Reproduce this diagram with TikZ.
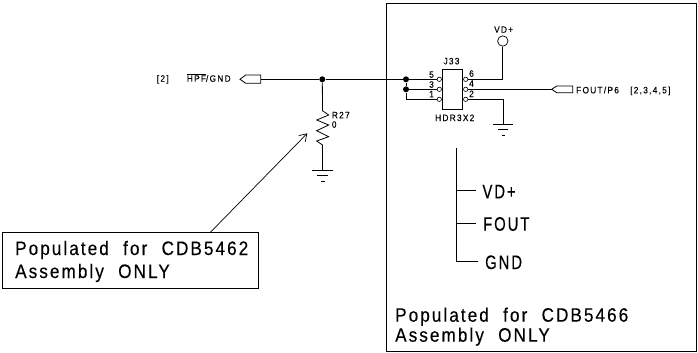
\documentclass[tikz,border=0pt]{standalone}
\usepackage{fontspec}
\setmainfont{Liberation Sans}
\newfontfamily\smallface[LetterSpace=14,FakeStretch=0.9,WordSpace=1.6,FakeBold=0.25]{Liberation Sans}
\newfontfamily\largeface[LetterSpace=10.5,FakeStretch=0.88,WordSpace=2.1,FakeBold=0.25]{Liberation Sans}
\newfontfamily\legendface[LetterSpace=10,FakeStretch=0.76,FakeBold=0.25]{Liberation Sans}
\usetikzlibrary{arrows.meta}
\tikzset{
  wire/.style={draw=black,line width=0.8pt},
  thinline/.style={draw=black,line width=0.7pt},
  pincirc/.style={circle,draw=black,line width=0.6pt,fill=white,minimum size=4.4pt,inner sep=0pt},
  dotnode/.style={circle,fill=black,minimum size=6pt,inner sep=0pt},
  smalltext/.style={anchor=base west,inner sep=0pt,font=\smallface\fontsize{9.2}{11}\selectfont},
  largetext/.style={anchor=base west,inner sep=0pt,font=\largeface\fontsize{19.5}{22}\selectfont},
  legendtext/.style={anchor=base west,inner sep=0pt,font=\legendface\fontsize{19.5}{22}\selectfont},
  offpage/.style={draw=black,line width=0.8pt,fill=white}
}
\begin{document}
\begin{tikzpicture}[x=1pt,y=-1pt]
\useasboundingbox (0,0) rectangle (698,353);
% big box
\draw[thinline,line width=0.9pt] (386.5,3) rectangle (696,351.5);
% header
\node[draw=black,line width=0.9pt,fill=white,minimum width=19.6pt,minimum height=39.6pt,inner sep=0pt] (j33) at (452.5,89.3) {};
\node[pincirc] (p5) at (439.3,79.3) {};
\node[pincirc] (p3) at (439.3,89.3) {};
\node[pincirc] (p1) at (439.3,99.3) {};
\node[pincirc] (p6) at (465.7,79.3) {};
\node[pincirc] (p4) at (465.7,89.3) {};
\node[pincirc] (p2) at (465.7,99.3) {};
\node[dotnode] (ja) at (406,79.3) {};
\node[dotnode] (jb) at (406,89.3) {};
\node[dotnode] (jc) at (322.3,79.3) {};
\node[circle,draw=black,line width=0.7pt,minimum size=10.4pt,inner sep=0pt] (vd) at (502.8,41) {};
% off-page connectors
\coordinate (hpfend) at (260.7,79.3);
\coordinate (foutend) at (551.7,89.3);
\draw[offpage] (240,79.3) -- (245.7,75) -- (hpfend|-0,75) -- (hpfend|-0,83.3) -- (245.7,83.3) -- cycle;
\draw[offpage] (foutend) -- (556.7,86) -- (572.7,86) -- (572.7,92.7) -- (556.7,92.7) -- cycle;
% wires
\draw[wire] (hpfend) -- (jc);
\draw[wire] (jc) -- (ja);
\draw[wire] (ja) -- (p5);
\draw[wire] (jb) -- (p3);
\draw[wire] (ja) -- (jb);
\draw[wire] (jb) -- (406,99.3) -- (p1);
\draw[wire] (p6) -- (502.8,79.3) -- (vd);
\draw[wire] (p4) -- (foutend);
\coordinate (gr) at (503.3,124);
\draw[wire] (p2) -- (503.3,99.3) -- (gr);
\draw[wire] (493.3,124) -- (513.3,124);
\draw[wire] (498,129.3) -- (508,129.3);
\draw[wire] (501.5,135.7) -- (505.2,135.7);
% resistor
\coordinate (gl) at (322.5,170);
\draw[wire] (jc) -- (322.5,110.7) -- (328.7,115) -- (316.7,120) -- (328.7,125) -- (316.7,130.7) -- (328.7,136.7) -- (316.7,141) -- (322.5,145) -- (gl);
\draw[wire] (312.3,170) -- (332.7,170);
\draw[wire] (317,175.7) -- (328,175.7);
\draw[wire] (320.5,181.7) -- (325,181.7);
% note box and arrow
\node[draw=black,line width=0.9pt,fill=white,minimum width=256.3pt,minimum height=55.6pt,inner sep=0pt] (note) at (130.2,260.5) {};
\coordinate (arrowtip) at (307.3,133.3);
\draw[thinline,-{Straight Barb[length=7pt,width=9pt,line width=0.7pt]}] (210,232.7) -- (arrowtip);
% pinout legend
\coordinate (legtop) at (456,148);
\coordinate (legbot) at (456,261);
\draw[thinline] (legtop) -- (legbot) -- (477.7,261);
\draw[thinline] (456,190) -- (476,190);
\draw[thinline] (456,223.3) -- (476,223.3);
% labels
\node[smalltext] (l2) at (156.7,81.7) {[2]};
\node[smalltext] (lhpf) at (186.7,81.7) {$\overline{\mbox{\smallface\fontsize{9.2}{11}\selectfont HPF}}$/GND};
\node[smalltext] (lfout) at (576,93.3) {FOUT/P6};
\node[smalltext] (lpg) at (630,93.3) {[2,3,4,5]};
\node[smalltext] (lj) at (443.3,64.3) {J33};
\node[smalltext] (lhdr) at (435,121) {HDR3X2};
\node[smalltext] (lvd) at (494,32.7) {VD+};
\node[smalltext] (lr) at (331.7,118.3) {R27};
\node[smalltext] (lr0) at (331.7,127.7) {0};
\node[smalltext] (n5) at (429,77.7) {5};
\node[smalltext] (n3) at (429,87.7) {3};
\node[smalltext] (n1) at (429,97.3) {1};
\node[smalltext] (n6) at (469,76.7) {6};
\node[smalltext] (n4) at (469,86.7) {4};
\node[smalltext] (n2) at (469,97) {2};
\node[largetext] (t1) at (15,255) {Populated for CDB5462};
\node[largetext] (t2) at (15,278) {Assembly ONLY};
\node[largetext] (t3) at (395,321.7) {Populated for CDB5466};
\node[largetext] (t4) at (395,341.7) {Assembly ONLY};
\node[legendtext] (t5) at (482.3,198.3) {VD+};
\node[legendtext] (t6) at (483,230.7) {FOUT};
\node[legendtext] (t7) at (485,269) {GND};
\end{tikzpicture}
\end{document}
